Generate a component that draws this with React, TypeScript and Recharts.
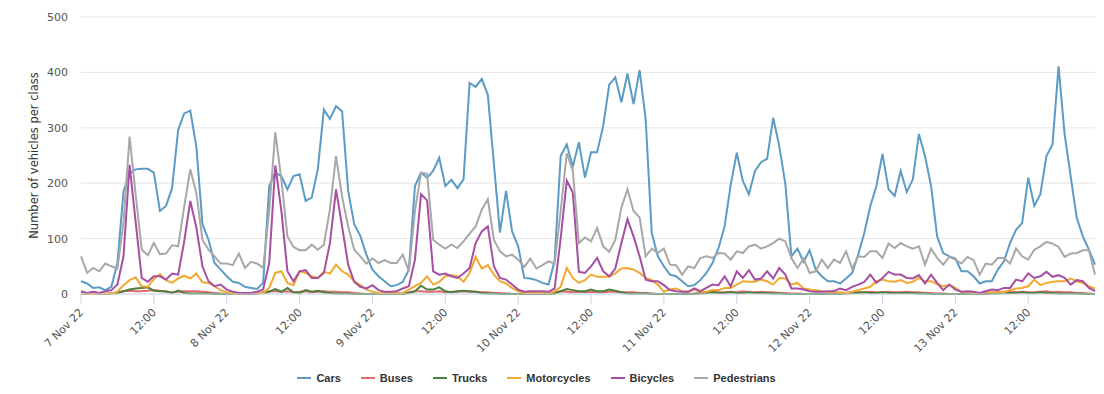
import { LineChart, Line, CartesianGrid, XAxis, YAxis, Legend } from "recharts";

// hourly counts, 7 Nov 22 00:00 -> 13 Nov 22 23:00 (one row of 24 per day)
const cars = [
  23, 19, 11, 12, 7, 13, 56, 185, 218, 225, 226, 226, 219, 150, 159, 191, 296, 326, 331, 266, 126, 98, 56, 44,
  32, 22, 20, 13, 11, 9, 20, 195, 219, 213, 189, 213, 216, 168, 174, 225, 333, 316, 339, 330, 186, 126, 105, 71,
  44, 32, 23, 14, 16, 22, 44, 195, 219, 210, 222, 246, 195, 206, 191, 207, 381, 374, 388, 360, 235, 111, 186, 113,
  86, 29, 28, 25, 20, 17, 60, 249, 270, 230, 274, 210, 256, 256, 303, 378, 391, 346, 398, 343, 404, 315, 110, 68,
  50, 35, 32, 23, 14, 16, 25, 38, 56, 83, 122, 197, 255, 204, 180, 222, 238, 244, 318, 267, 199, 68, 82, 58,
  79, 44, 32, 23, 23, 19, 28, 38, 71, 110, 159, 195, 253, 189, 177, 222, 184, 207, 289, 249, 195, 104, 74, 68,
  64, 41, 41, 32, 19, 23, 23, 44, 59, 92, 116, 128, 210, 159, 180, 249, 270, 411, 288, 212, 137, 104, 80, 53,
];
const buses = [
  0, 0, 0, 0, 0, 1, 3, 5, 6, 5, 5, 6, 7, 6, 4, 3, 4, 5, 5, 5, 4, 3, 2, 1,
  0, 0, 0, 0, 0, 1, 3, 5, 5, 4, 5, 3, 4, 5, 3, 4, 5, 4, 4, 3, 3, 2, 1, 0,
  0, 0, 0, 0, 0, 1, 3, 5, 5, 4, 4, 5, 3, 4, 4, 5, 4, 4, 3, 3, 2, 2, 1, 0,
  0, 0, 0, 0, 0, 1, 3, 5, 4, 3, 4, 3, 4, 3, 3, 4, 4, 3, 3, 3, 2, 2, 1, 0,
  0, 0, 0, 0, 0, 1, 2, 3, 4, 3, 3, 4, 3, 5, 3, 3, 4, 3, 3, 2, 2, 1, 1, 0,
  0, 0, 0, 0, 0, 1, 2, 3, 4, 3, 4, 3, 3, 4, 3, 3, 4, 3, 3, 2, 2, 1, 1, 0,
  0, 0, 0, 0, 0, 1, 2, 3, 4, 5, 3, 4, 3, 3, 4, 5, 3, 4, 3, 3, 2, 2, 1, 0,
];
const trucks = [
  1, 0, 0, 0, 0, 1, 2, 5, 8, 10, 11, 12, 6, 5, 5, 2, 6, 2, 1, 1, 1, 1, 0, 0,
  0, 0, 0, 0, 0, 1, 2, 4, 9, 4, 11, 3, 2, 7, 4, 6, 3, 2, 1, 1, 1, 0, 0, 0,
  0, 0, 0, 0, 0, 0, 2, 5, 15, 8, 8, 12, 5, 3, 5, 6, 5, 4, 2, 1, 1, 0, 0, 0,
  0, 0, 0, 0, 0, 0, 1, 5, 9, 7, 5, 5, 8, 5, 5, 8, 6, 3, 1, 1, 1, 1, 0, 0,
  0, 0, 0, 0, 0, 0, 1, 2, 3, 2, 2, 3, 2, 2, 3, 2, 2, 2, 1, 1, 0, 0, 0, 0,
  0, 0, 0, 0, 0, 0, 1, 2, 2, 3, 2, 2, 3, 2, 2, 2, 2, 2, 1, 1, 0, 0, 0, 0,
  0, 0, 0, 0, 0, 0, 1, 1, 2, 2, 2, 3, 2, 2, 3, 2, 2, 1, 1, 1, 1, 0, 0, 0,
];
const motorcycles = [
  1, 1, 0, 1, 1, 1, 4, 16, 25, 30, 14, 13, 27, 36, 25, 20, 28, 33, 28, 37, 21, 20, 14, 7,
  3, 1, 1, 1, 2, 2, 2, 11, 38, 41, 20, 16, 41, 38, 32, 29, 40, 37, 53, 41, 35, 23, 16, 8,
  4, 2, 2, 2, 2, 2, 8, 14, 20, 32, 17, 22, 32, 34, 32, 22, 38, 67, 46, 52, 35, 23, 19, 11,
  5, 2, 2, 2, 2, 2, 5, 13, 47, 29, 20, 25, 35, 31, 31, 31, 37, 46, 47, 44, 38, 29, 25, 17,
  4, 8, 10, 5, 4, 8, 4, 4, 7, 7, 11, 11, 17, 23, 22, 22, 26, 23, 17, 29, 28, 17, 20, 10,
  8, 7, 5, 3, 3, 3, 2, 4, 7, 10, 13, 23, 26, 23, 22, 25, 20, 22, 29, 23, 23, 18, 14, 16,
  11, 4, 3, 2, 2, 3, 3, 3, 3, 7, 10, 11, 14, 26, 16, 20, 22, 23, 23, 28, 23, 20, 14, 10,
];
const bicycles = [
  5, 2, 4, 2, 5, 7, 17, 68, 233, 130, 29, 22, 32, 32, 26, 37, 35, 95, 168, 120, 50, 23, 14, 17,
  8, 4, 2, 2, 2, 4, 8, 56, 232, 150, 41, 23, 41, 43, 29, 29, 38, 92, 189, 122, 53, 22, 13, 10,
  16, 7, 4, 4, 5, 10, 14, 62, 180, 169, 41, 35, 37, 32, 29, 37, 47, 92, 113, 122, 50, 29, 26, 17,
  8, 4, 5, 5, 5, 4, 10, 100, 205, 183, 40, 38, 50, 65, 41, 32, 46, 92, 135, 104, 68, 26, 23, 23,
  16, 7, 5, 4, 4, 10, 5, 11, 17, 16, 32, 14, 41, 29, 43, 26, 28, 41, 28, 47, 35, 10, 10, 8,
  5, 4, 4, 5, 5, 10, 7, 13, 17, 22, 35, 20, 29, 40, 35, 35, 29, 28, 34, 19, 35, 20, 7, 17,
  8, 4, 5, 4, 2, 5, 8, 7, 11, 11, 26, 23, 37, 29, 32, 40, 31, 34, 29, 17, 25, 23, 11, 5,
];
const pedestrians = [
  68, 38, 47, 41, 55, 50, 46, 130, 284, 180, 80, 70, 92, 72, 73, 88, 86, 158, 225, 182, 98, 80, 68, 55,
  55, 52, 73, 47, 58, 55, 47, 150, 292, 206, 104, 85, 79, 79, 89, 80, 89, 153, 249, 176, 122, 80, 68, 55,
  64, 56, 61, 56, 56, 71, 41, 150, 219, 217, 98, 89, 82, 89, 83, 95, 109, 122, 152, 171, 98, 77, 68, 71,
  62, 49, 64, 46, 52, 59, 55, 150, 254, 222, 92, 102, 95, 119, 86, 76, 98, 156, 189, 150, 138, 68, 82, 74,
  82, 53, 52, 35, 50, 47, 65, 68, 65, 74, 73, 62, 77, 74, 86, 89, 82, 86, 92, 100, 95, 65, 47, 64,
  38, 41, 62, 47, 62, 56, 77, 46, 68, 67, 77, 77, 65, 91, 83, 92, 86, 82, 86, 53, 82, 65, 53, 67,
  62, 55, 67, 61, 35, 55, 53, 65, 65, 55, 82, 68, 62, 80, 86, 94, 91, 85, 67, 73, 74, 79, 79, 35,
];

const tickLabels = [
  "7 Nov 22", "12:00", "8 Nov 22", "12:00", "9 Nov 22", "12:00", "10 Nov 22",
  "12:00", "11 Nov 22", "12:00", "12 Nov 22", "12:00", "13 Nov 22", "12:00",
];
const yTicks = [0, 100, 200, 300, 400, 500];

const series = [
  { key: "cars", name: "Cars", color: "#5b9bc6" },
  { key: "buses", name: "Buses", color: "#e26a70" },
  { key: "trucks", name: "Trucks", color: "#4e7f3c" },
  { key: "motorcycles", name: "Motorcycles", color: "#f2a831" },
  { key: "bicycles", name: "Bicycles", color: "#a64fa3" },
  { key: "pedestrians", name: "Pedestrians", color: "#a8a8a8" },
];

const data = cars.map((v, i) => ({
  h: i,
  cars: v,
  buses: buses[i],
  trucks: trucks[i],
  motorcycles: motorcycles[i],
  bicycles: bicycles[i],
  pedestrians: pedestrians[i],
}));

const xTicks = tickLabels.map((_, i) => i * 12);

const DateTick = (props: any) => {
  const { x, y, payload } = props;
  const label = tickLabels[Math.round(payload.value / 12)];
  const tx = x + 3;
  const ty = y + 9;
  return (
    <text
      x={tx}
      y={ty}
      transform={`rotate(-45, ${tx}, ${ty})`}
      textAnchor="end"
      fontSize={11}
      fontFamily="DejaVu Sans"
      fill="#555"
    >
      {label}
    </text>
  );
};

const LegendBox = () => (
  <div
    style={{
      height: 20,
      display: "flex",
      justifyContent: "center",
      alignItems: "center",
      paddingRight: 22,
      fontFamily: "Liberation Sans",
      fontWeight: "bold",
      fontSize: 11,
      color: "#333",
    }}
  >
    {series.map((s, i) => (
      <div
        key={s.key}
        style={{ display: "flex", alignItems: "center", marginLeft: i === 0 ? 0 : 20 }}
      >
        <svg width={14} height={10} style={{ marginRight: 5 }}>
          <line x1={0} y1={5} x2={14} y2={5} stroke={s.color} strokeWidth={2} />
        </svg>
        <span>{s.name}</span>
      </div>
    ))}
  </div>
);

export default function App() {
  return (
    <div style={{ position: "absolute", left: 0, top: 0, width: 1104, height: 394, background: "#fff" }}>
      <LineChart
        width={1104}
        height={394}
        data={data}
        margin={{ top: 17, right: 9, left: 0, bottom: 6 }}
      >
        <CartesianGrid vertical={false} stroke="#e6e6e6" />
        <XAxis
          dataKey="h"
          type="number"
          domain={[0, 167]}
          ticks={xTicks}
          interval={0}
          height={74}
          tickSize={10}
          tickMargin={0}
          stroke="#ccd6eb"
          tick={<DateTick />}
        />
        <YAxis
          width={81}
          domain={[0, 500]}
          ticks={yTicks}
          axisLine={false}
          tickLine={false}
          tickMargin={7}
          tick={{ fontSize: 11, fill: "#555", fontFamily: "DejaVu Sans" }}
          label={{
            value: "Number of vehicles per class",
            angle: -90,
            position: "center",
            dx: -7,
            style: { fontSize: 11.5, fill: "#333", fontFamily: "DejaVu Sans" },
          }}
        />
        <Legend verticalAlign="bottom" content={<LegendBox />} />
        {series.map((s) => (
          <Line
            key={s.key}
            type="linear"
            dataKey={s.key}
            name={s.name}
            stroke={s.color}
            strokeWidth={2}
            dot={false}
            isAnimationActive={false}
          />
        ))}
      </LineChart>
    </div>
  );
}
